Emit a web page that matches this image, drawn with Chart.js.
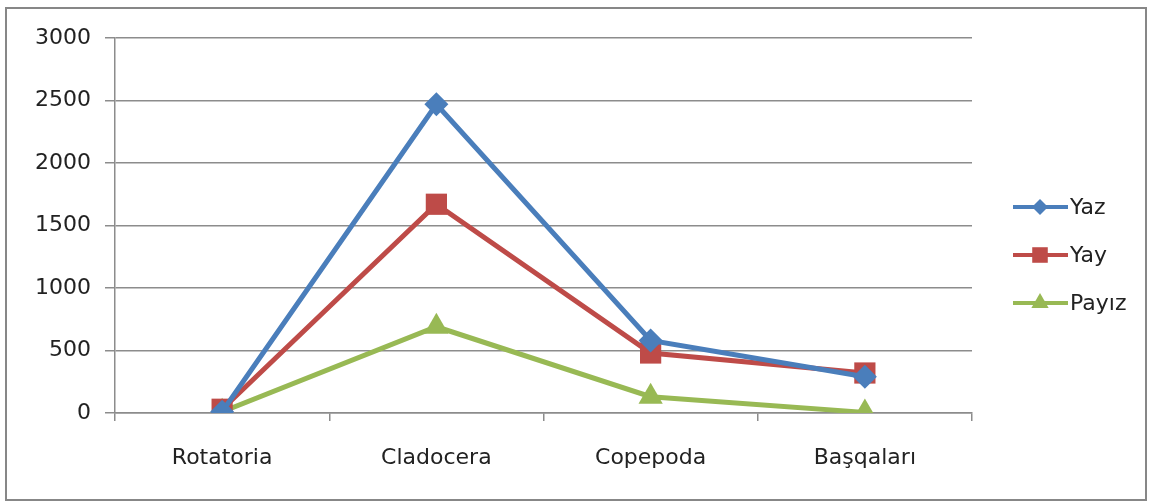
<!DOCTYPE html>
<html>
<head>
<meta charset="utf-8">
<script src="https://cdn.jsdelivr.net/npm/chart.js@4.4.0/dist/chart.umd.min.js"></script>
<style>
  html, body { margin: 0; padding: 0; background: #fff; }
  #wrap { width: 1149px; height: 501px; }
</style>
</head>
<body>
<div id="wrap"><canvas id="myChart" width="1149" height="501"></canvas></div>
<script>
var categories = ["Rotatoria", "Cladocera", "Copepoda", "Başqaları"];
var yazValues = [10, 2470, 580, 290];
var yayValues = [30, 1670, 480, 320];
var payizValues = [10, 690, 130, 5];
var yTicks = [0, 500, 1000, 1500, 2000, 2500, 3000];

var FONT = "DejaVu Sans";

// legend on the right: line + marker + label, drawn by hand
var sideLegend = {
    id: 'sideLegend',
    afterDraw: function (chart) {
        var ctx = chart.ctx;
        ctx.save();
        // outer frame
        ctx.strokeStyle = '#878787';
        ctx.lineWidth = 2;
        ctx.strokeRect(6, 8, 1140, 492);
        var rows = [207, 255, 303];
        var legendRadius = [8, 11, 10];
        chart.data.datasets.forEach(function (ds, i) {
            var y = rows[i];
            ctx.strokeStyle = ds.borderColor;
            ctx.lineWidth = 4;
            ctx.beginPath();
            ctx.moveTo(1013, y);
            ctx.lineTo(1068, y);
            ctx.stroke();
            ctx.fillStyle = ds.borderColor;
            Chart.helpers.drawPoint(ctx, {
                pointStyle: ds.pointStyle,
                radius: legendRadius[i],
                borderWidth: 0
            }, 1040, y);
            ctx.fillStyle = '#222';
            ctx.font = '22px "' + FONT + '"';
            ctx.textBaseline = 'middle';
            ctx.textAlign = 'left';
            ctx.fillText(ds.label, 1070, y + 1);
        });
        ctx.restore();
    }
};

var ctx = document.getElementById('myChart');
var myChart = new Chart(ctx, {
    type: 'line',
    data: {
        labels: categories,
        datasets: [{
            label: "Yaz",
            data: yazValues,
            borderColor: '#4A7EBB',
            backgroundColor: '#4A7EBB',
            borderWidth: 5,
            pointStyle: 'rectRot',
            pointRadius: 12,
            pointBorderWidth: 0,
            tension: 0
        }, {
            label: "Yay",
            data: yayValues,
            borderColor: '#BE4B48',
            backgroundColor: '#BE4B48',
            borderWidth: 5,
            pointStyle: 'rect',
            pointRadius: 15,
            pointBorderWidth: 0,
            tension: 0
        }, {
            label: "Payız",
            data: payizValues,
            borderColor: '#98B954',
            backgroundColor: '#98B954',
            borderWidth: 5,
            pointStyle: 'triangle',
            pointRadius: 14,
            pointBorderWidth: 0,
            tension: 0
        }]
    },
    options: {
        responsive: false,
        animation: false,
        layout: { padding: { left: 0, top: 38, right: 177, bottom: 0 } },
        plugins: {
            legend: { display: false },
            tooltip: { enabled: false }
        },
        scales: {
            x: {
                offset: true,
                afterFit: function (scale) { scale.height = 88; },
                grid: {
                    offset: true,
                    drawOnChartArea: false,
                    drawTicks: true,
                    tickLength: 8,
                    color: '#8c8c8c',
                    lineWidth: 1.5
                },
                border: { color: '#8c8c8c', width: 1.5 },
                ticks: {
                    padding: 24,
                    color: '#222',
                    font: { family: FONT, size: 22 }
                }
            },
            y: {
                min: 0,
                max: 3000,
                afterFit: function (scale) { scale.width = 115; },
                afterBuildTicks: function (scale) {
                    scale.ticks = yTicks.map(function (v) { return { value: v }; });
                },
                grid: {
                    color: '#8c8c8c',
                    lineWidth: 1.5,
                    tickLength: 10
                },
                border: { color: '#8c8c8c', width: 1.5 },
                ticks: {
                    padding: 14,
                    color: '#222',
                    font: { family: FONT, size: 22 },
                    callback: function (v) { return String(v); }
                }
            }
        }
    },
    plugins: [sideLegend]
});
</script>
</body>
</html>
